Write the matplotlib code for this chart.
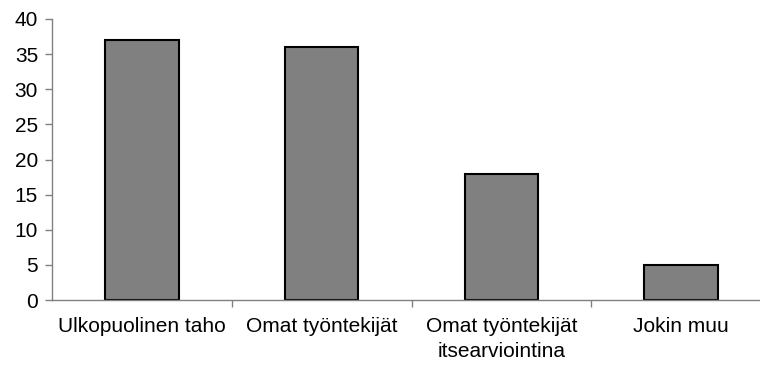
import matplotlib
matplotlib.use('Agg')
import matplotlib.pyplot as plt

# Arviointiin osallistuneet tahot
kategoriat = ['Ulkopuolinen taho', 'Omat työntekijät', 'Omat työntekijät\nitsearviointina', 'Jokin muu']
arvot = [37, 36, 18, 5]

plt.rcParams['font.family'] = ['Liberation Sans', 'DejaVu Sans']

fig = plt.figure(figsize=(7.6, 3.69), dpi=100)
ax = fig.add_axes([52 / 760, 69 / 369, 719 / 760, 281 / 369])

x = range(len(kategoriat))
ax.bar(x, arvot, width=0.41, color='#808080', edgecolor='black', linewidth=1.5)

ax.set_xlim(-0.5, len(kategoriat) - 0.5)
ax.set_ylim(0, 40)
ax.set_yticks(range(0, 41, 5))

ax.set_xticks(list(x))
ax.set_xticklabels(kategoriat, fontsize=15, linespacing=1.4)
ax.set_xticks([i + 0.5 for i in range(len(kategoriat) - 1)], minor=True)
ax.tick_params(axis='x', which='major', length=0, pad=12)
ax.tick_params(axis='x', which='minor', length=5, color='#808080', width=1)
ax.tick_params(axis='y', length=5, color='#808080', width=1, labelsize=15, pad=5)

for s in ['top', 'right']:
    ax.spines[s].set_visible(False)
for s in ['left', 'bottom']:
    ax.spines[s].set_color('#808080')
    ax.spines[s].set_linewidth(1)

plt.savefig('out.png', dpi=100)
